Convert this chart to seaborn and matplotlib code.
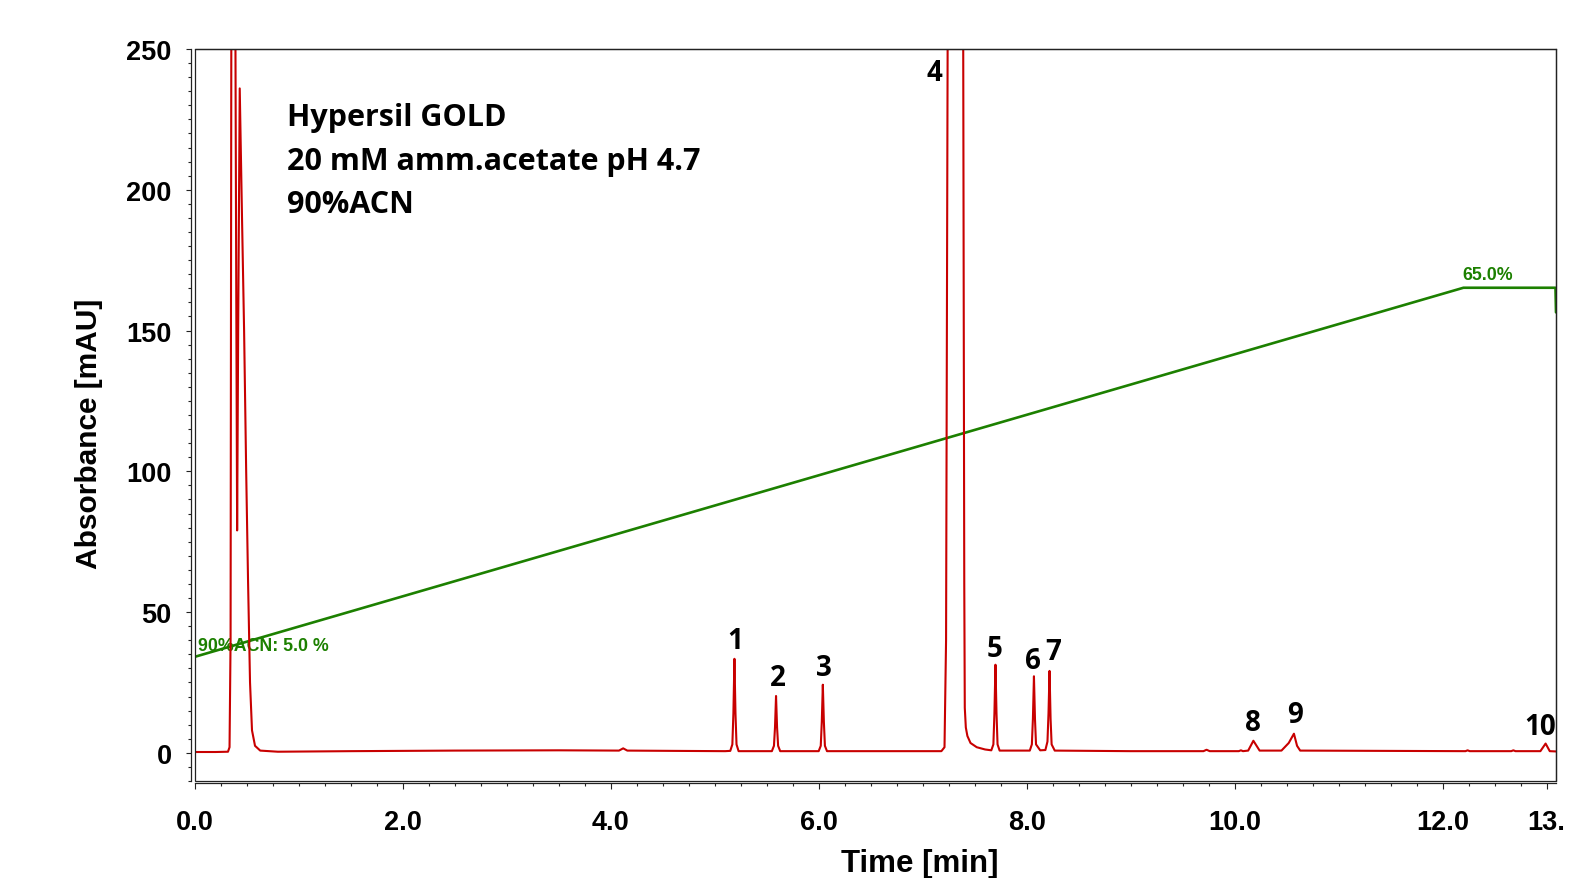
import matplotlib
matplotlib.use("Agg")
import matplotlib.pyplot as plt
import seaborn as sns
import numpy as np
import pandas as pd
from matplotlib.patches import Rectangle
from matplotlib.ticker import MultipleLocator, FixedLocator

# ---------------- data ----------------
trace_time = [0.00, 0.20, 0.32, 0.335, 0.345, 0.352, 0.392, 0.400, 0.408, 0.418, 0.433,
              0.455, 0.475, 0.495, 0.513, 0.532, 0.551, 0.58, 0.63, 0.80, 1.50, 2.50,
              3.50, 4.08, 4.12, 4.16, 4.60, 5.10,
              5.15, 5.17, 5.18, 5.19, 5.20, 5.21, 5.23,
              5.55, 5.57, 5.58, 5.59, 5.60, 5.61, 5.63,
              6.00, 6.02, 6.03, 6.04, 6.05, 6.06, 6.08,
              6.80, 7.18, 7.21, 7.225, 7.24, 7.39, 7.40, 7.405, 7.415, 7.43, 7.46, 7.52, 7.60,
              7.66, 7.68, 7.69, 7.70, 7.71, 7.72, 7.74,
              8.03, 8.05, 8.06, 8.07, 8.08, 8.09, 8.13,
              8.18, 8.20, 8.21, 8.22, 8.23, 8.24, 8.27,
              9.00, 9.70, 9.73, 9.76, 10.04, 10.06, 10.08,
              10.13, 10.18, 10.24, 10.45, 10.52, 10.57, 10.60, 10.63,
              12.22, 12.24, 12.26, 12.66, 12.68, 12.70, 12.94, 12.99, 13.03, 13.09]
trace_mau = [0.3, 0.3, 0.4, 2, 40, 250, 250, 160, 79, 150, 236,
             190, 150, 100, 61, 25, 8, 2.5, 0.8, 0.4, 0.6, 0.8,
             0.9, 0.8, 1.6, 0.8, 0.7, 0.6,
             0.7, 3, 14, 33.4, 14, 3, 0.6,
             0.6, 2.5, 9, 20.2, 9, 2.5, 0.6,
             0.6, 2.5, 11, 24.2, 11, 2.5, 0.6,
             0.6, 0.6, 2, 40, 250, 250, 60, 16, 9, 6, 3.5, 2, 1.2,
             0.9, 3, 14, 31.3, 14, 3, 0.8,
             0.8, 3, 12, 27.2, 12, 3, 0.9,
             1.0, 4, 14, 29.1, 12, 3, 0.8,
             0.6, 0.6, 1.1, 0.6, 0.6, 0.9, 0.6,
             0.8, 4.3, 0.8, 0.8, 3.5, 6.8, 2.5, 0.8,
             0.6, 0.9, 0.6, 0.6, 0.9, 0.6, 0.6, 3.3, 0.6, 0.5]

grad_time = [0.0, 12.2, 13.085, 13.09]
grad_pct = [5.0, 65.0, 65.0, 61.0]

peak_labels = ["1", "2", "3", "4", "5", "6", "7", "8", "9", "10"]
label_time = [5.195, 5.606, 6.051, 7.109, 7.695, 8.063, 8.256, 10.176, 10.580, 12.935]
label_mau = [37.2, 24.0, 27.5, 239.1, 34.3, 30.1, 33.2, 8.0, 11.0, 6.8]

info_lines = ["Hypersil GOLD", "20 mM amm.acetate pH 4.7", "90%ACN"]
grad_start_label = "90%ACN: 5.0 %"
grad_end_label = "65.0%"

x_ticks = [0, 2, 4, 6, 8, 10, 12, 13]
x_ticklabels = ["0.0", "2.0", "4.0", "6.0", "8.0", "10.0", "12.0", "13."]
y_ticks = [0, 50, 100, 150, 200, 250]
y_ticklabels = ["0", "50", "100", "150", "200", "250"]

# ---------------- style ----------------
sns.set_theme(style="white")
plt.rcParams["font.family"] = ["Liberation Sans", "DejaVu Sans"]
plt.rcParams["font.weight"] = "bold"
plt.rcParams["axes.labelweight"] = "bold"

RED = "#c80000"
GREEN = "#1c8000"
ANNOT_FONT = ["Open Sans", "DejaVu Sans"]

# calibration of the %B trace against the mAU axis (layout)
Y_AT_5PCT = 34.1
MAU_PER_PCT = 2.185
YMIN, YMAX = -10, 250

fig = plt.figure(figsize=(15.76, 8.79), dpi=100)
ax = fig.add_axes([0.12354, 0.11035, 0.86377, 0.83276])
ax2 = ax.twinx()

df = pd.DataFrame({"t": trace_time, "mau": trace_mau})
sns.lineplot(data=df, x="t", y="mau", ax=ax, color=RED, linewidth=1.5,
             estimator=None, sort=False)

gdf = pd.DataFrame({"t": grad_time, "pct": grad_pct})
sns.lineplot(data=gdf, x="t", y="pct", ax=ax2, color=GREEN, linewidth=1.9,
             estimator=None, sort=False)

ax.set_xlim(0, 13.09)
ax.set_ylim(YMIN, YMAX)
ax2.set_ylim(5 + (YMIN - Y_AT_5PCT) / MAU_PER_PCT, 5 + (YMAX - Y_AT_5PCT) / MAU_PER_PCT)

# red trace above green
ax.set_zorder(ax2.get_zorder() + 1)
ax.patch.set_visible(False)

# hide twin axis decorations
ax2.set_ylabel("")
ax2.set_yticks([])
for s in ax2.spines.values():
    s.set_visible(False)

# ticks
ax.xaxis.set_major_locator(FixedLocator(x_ticks))
ax.set_xticklabels(x_ticklabels, fontweight="bold")
ax.xaxis.set_minor_locator(MultipleLocator(0.25))
ax.yaxis.set_major_locator(FixedLocator(y_ticks))
ax.set_yticklabels(y_ticklabels, fontweight="bold")
ax.yaxis.set_minor_locator(MultipleLocator(5))
ax.tick_params(axis="x", which="major", direction="out", length=4.2, width=0.8,
               color="#222222", bottom=True, pad=14.5, labelsize=19.5, labelcolor="black")
ax.tick_params(axis="x", which="minor", direction="out", length=2.2, width=0.8,
               color="#222222", bottom=True)
ax.tick_params(axis="y", which="major", direction="out", length=3.6, width=0.8,
               color="#222222", left=True, pad=10, labelsize=19.5, labelcolor="black")
ax.tick_params(axis="y", which="minor", direction="out", length=2.2, width=0.8,
               color="#222222", left=True)

# spines: double-line look on left/bottom
for side in ["left", "right", "top", "bottom"]:
    ax.spines[side].set_color("#222222")
    ax.spines[side].set_linewidth(0.9)
ax.spines["left"].set_position(("outward", 3))
ax.spines["bottom"].set_position(("outward", 1.7))
ax.add_patch(Rectangle((0, 0), 1, 1, transform=ax.transAxes, fill=False,
                       edgecolor="#222222", linewidth=0.9, clip_on=False, zorder=5))

ax.set_xlabel("Time [min]", fontsize=22.5, fontweight="bold", color="black")
ax.set_ylabel("Absorbance [mAU]", fontsize=21.5, fontweight="bold", color="black")
ax.xaxis.set_label_coords(0.5325, -0.0915)
ax.yaxis.set_label_coords(-0.0674, 0.475)

# info text
info_y = [0.8955, 0.8365, 0.7775]
for line, yy in zip(info_lines, info_y):
    ax.text(0.0676, yy, line, transform=ax.transAxes, fontsize=22,
            fontweight="bold", family=ANNOT_FONT, va="baseline", ha="left", color="black")

# peak labels
for lab, t, m in zip(peak_labels, label_time, label_mau):
    ax.text(t, m, lab, fontsize=20, fontweight="bold", family=ANNOT_FONT,
            ha="center", va="baseline", color="black")

# gradient labels (behind the red trace)
ax2.text(0.035, 36.6, grad_start_label, transform=ax.transData, color=GREEN,
         fontsize=12.8, fontweight="bold", ha="left", va="baseline")
ax2.text(12.19, 168.4, grad_end_label, transform=ax.transData, color=GREEN,
         fontsize=12.8, fontweight="bold", ha="left", va="baseline")

fig.savefig("out.png", dpi=100)
